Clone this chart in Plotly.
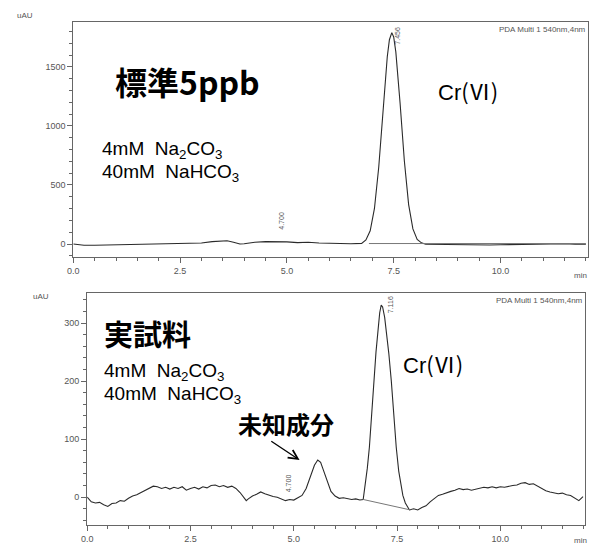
import plotly.graph_objects as go

# ---------------- data ----------------
# Top chromatogram: standard 5 ppb
std_time = [0.0, 0.1, 0.25, 0.5, 0.75, 1.0, 1.25, 1.5, 1.75, 2.0, 2.25, 2.5, 2.75,
            3.0, 3.25, 3.5, 3.6, 3.75, 3.9, 4.0, 4.25, 4.5, 4.75, 5.0, 5.25, 5.5,
            5.75, 6.0, 6.25, 6.5, 6.75, 6.85, 6.95, 7.05, 7.15, 7.25, 7.35, 7.40,
            7.456, 7.50, 7.55, 7.65, 7.75, 7.85, 7.95, 8.05, 8.15, 8.25, 8.5, 8.75,
            9.0, 9.25, 9.5, 9.75, 10.0, 10.25, 10.5, 10.75, 11.0, 11.25, 11.5,
            11.75, 12.0]
std_signal = [0, -5, -10, -10, -8, -5, -3, 0, 2, 5, 5, 3, 5,
              8, 20, 30, 28, 15, 0, 2, 15, 20, 22, 18, 12, 15,
              8, 5, 3, 2, 5, 34, 112, 301, 650, 1131, 1586, 1730,
              1790, 1753, 1627, 1192, 703, 334, 128, 39, 10, -2, -4, -5,
              -6, -8, -9, -8, -6, -4, -6, -3, 0, 6, 2,
              -1, -2]
std_base_time = [6.92, 12.0]
std_base_signal = [4, 4]

# Bottom chromatogram: real sample
smp_time = [0.0, 0.1, 0.2, 0.3, 0.4, 0.5, 0.6, 0.7, 0.8, 0.9, 1.0, 1.1, 1.2, 1.3,
            1.4, 1.5, 1.6, 1.7, 1.8, 1.9, 2.0, 2.1, 2.2, 2.3, 2.4, 2.5, 2.6, 2.7,
            2.8, 2.9, 3.0, 3.1, 3.2, 3.3, 3.4, 3.5, 3.6, 3.7, 3.8, 3.85, 3.9, 4.0,
            4.1, 4.2, 4.3, 4.4, 4.5, 4.6, 4.7, 4.8, 4.9, 5.0, 5.1, 5.2, 5.3, 5.4,
            5.5, 5.58, 5.65, 5.7, 5.8, 5.9, 6.0, 6.1, 6.2, 6.3, 6.4, 6.5, 6.6,
            6.68, 6.72, 6.78, 6.83, 6.88, 6.94, 6.99, 7.04, 7.08, 7.116, 7.15,
            7.2, 7.24, 7.3, 7.36, 7.42, 7.48, 7.54, 7.6, 7.64, 7.7, 7.76, 7.8,
            7.9, 8.0, 8.1, 8.2, 8.3, 8.4, 8.5, 8.6, 8.7, 8.8, 8.9, 9.0, 9.1, 9.2,
            9.3, 9.4, 9.5, 9.6, 9.7, 9.8, 9.9, 10.0, 10.1, 10.2, 10.3, 10.4,
            10.5, 10.6, 10.7, 10.8, 10.9, 11.0, 11.1, 11.2, 11.3, 11.4, 11.5,
            11.6, 11.7, 11.8, 11.9, 12.0]
smp_signal = [0, -8, -10, -9, -13, -16, -11, -10, -6, -7, -2, 2, 4, 8,
              11, 15, 19, 18, 15, 17, 14, 17, 15, 18, 12, 15, 17, 14,
              18, 16, 20, 21, 18, 20, 17, 19, 15, 8, -2, -6, -3, 2,
              5, 9, 6, 3, 1, 0, -3, -6, -4, -5, -1, 3, 15, 35,
              55, 64, 60, 50, 28, 10, 2, -2, -1, -3, -4, -3, -5,
              -4, 15, 50, 86, 140, 201, 250, 288, 318, 331, 328,
              310, 288, 248, 201, 143, 86, 45, 15, 3, -10, -18, -22,
              -20, -22, -18, -15, -8, -2, 3, 5, 8, 10, 12, 15, 13, 14,
              12, 14, 15, 17, 16, 18, 16, 18, 17, 19, 20, 21,
              24, 25, 22, 23, 19, 14, 11, 9, 8, 6, 7,
              4, 3, -2, -6, 1]
smp_base_time = [6.68, 7.82]
smp_base_signal = [-4, -22]

# axis ranges / ticks
x_range = [0, 12.05]
x_ticks = [0.0, 2.5, 5.0, 7.5, 10.0]
x_ticklabels = ["0.0", "2.5", "5.0", "7.5", "10.0"]
std_yrange = [-110, 1880]
std_yticks = [0, 500, 1000, 1500]
smp_yrange = [-48, 352]
smp_yticks = [0, 100, 200, 300]

W, H = 592, 545
AX = "#666666"
TXT = "#555555"
LINE = "#2a2a2a"

fig = go.Figure()

fig.add_trace(go.Scatter(x=std_time, y=std_signal, mode="lines",
                         line=dict(color=LINE, width=1.1), xaxis="x", yaxis="y",
                         showlegend=False))
fig.add_trace(go.Scatter(x=std_base_time, y=std_base_signal, mode="lines",
                         line=dict(color="#777777", width=1), xaxis="x", yaxis="y",
                         showlegend=False))
fig.add_trace(go.Scatter(x=smp_time, y=smp_signal, mode="lines",
                         line=dict(color=LINE, width=1.1), xaxis="x2", yaxis="y2",
                         showlegend=False))
fig.add_trace(go.Scatter(x=smp_base_time, y=smp_base_signal, mode="lines",
                         line=dict(color="#777777", width=1), xaxis="x2", yaxis="y2",
                         showlegend=False))

tickfont = dict(family="Liberation Sans, Arial, sans-serif", size=9, color=TXT)

def xaxis(dom, anchor):
    return dict(domain=dom, anchor=anchor, range=x_range, tickvals=x_ticks,
                ticktext=x_ticklabels, ticks="outside", ticklen=5, tickcolor=AX,
                showline=True, linecolor=AX, linewidth=1, mirror=True,
                showgrid=False, zeroline=False, tickfont=tickfont,
                minor=dict(dtick=0.5, tick0=0, ticks="outside", ticklen=3,
                           tickcolor=AX, showgrid=False))

def yaxis(dom, anchor, rng, ticks, minor_dt):
    return dict(domain=dom, anchor=anchor, range=rng, tickvals=ticks,
                ticks="outside", ticklen=5, tickcolor=AX,
                showline=True, linecolor=AX, linewidth=1, mirror=True,
                showgrid=False, zeroline=False, tickfont=tickfont,
                minor=dict(dtick=minor_dt, tick0=0, ticks="outside", ticklen=3,
                           tickcolor=AX, showgrid=False))

fig.update_layout(
    width=W, height=H, margin=dict(l=0, r=0, t=0, b=0),
    paper_bgcolor="white", plot_bgcolor="white",
    xaxis=xaxis([68 / W, 588 / W], "y"),
    yaxis=yaxis([1 - 257 / H, 1 - 22 / H], "x", std_yrange, std_yticks, 100),
    xaxis2=xaxis([82 / W, 585 / W], "y2"),
    yaxis2=yaxis([1 - 525 / H, 1 - 293 / H], "x2", smp_yrange, smp_yticks, 20),
)

LAT = "Liberation Sans, Arial, Noto Sans CJK JP"
CJK = "Noto Sans CJK JP, sans-serif"
CR6 = "Cr<span style='font-family:Noto Sans CJK JP'>(Ⅵ)</span>"
ann = []

def text(x, y, s, xref, yref, size, family=LAT, color="black", xanchor="left",
         yanchor="middle", angle=0):
    ann.append(dict(x=x, y=y, xref=xref, yref=yref, text=s, showarrow=False,
                    xanchor=xanchor, yanchor=yanchor, textangle=angle,
                    font=dict(size=size, family=family, color=color)))

# top panel
text(0.93, 1380, "<b>標準5ppb</b>", "x", "y", 32, CJK)
text(0.63, 800, "4mM  Na<sub>2</sub>CO<sub>3</sub>", "x", "y", 19)
text(0.63, 605, "40mM  NaHCO<sub>3</sub>", "x", "y", 19)
text(8.5, 1305, CR6, "x", "y", 22)
text(7.58, 1765, "7.456", "x", "y", 7, color=TXT, xanchor="center", angle=-90)
text(4.88, 195, "4.700", "x", "y", 7, color=TXT, xanchor="center", angle=-90)
text(1.0, 0.995, "PDA Multi 1 540nm,4nm", "x domain", "y domain", 8, color=TXT,
     xanchor="right", yanchor="top")
text(19 / W, 1 - 15 / H, "uAU", "paper", "paper", 8, color=TXT, xanchor="center")
text(580 / W, 1 - 275 / H, "min", "paper", "paper", 8, color=TXT, xanchor="center")

# bottom panel
text(0.36, 283, "<b>実試料</b>", "x2", "y2", 29, CJK)
text(0.36, 216, "4mM  Na<sub>2</sub>CO<sub>3</sub>", "x2", "y2", 19)
text(0.36, 176, "40mM  NaHCO<sub>3</sub>", "x2", "y2", 19)
text(3.6, 127, "<b>未知成分</b>", "x2", "y2", 24, CJK)
text(7.6, 231, CR6, "x2", "y2", 22)
text(7.33, 331, "7.116", "x2", "y2", 7, color=TXT, xanchor="center", angle=-90)
text(4.86, 24, "4.700", "x2", "y2", 7, color=TXT, xanchor="center", angle=-90)
text(1.0, 0.995, "PDA Multi 1 540nm,4nm", "x2 domain", "y2 domain", 8, color=TXT,
     xanchor="right", yanchor="top")
text(35 / W, 1 - 296 / H, "uAU", "paper", "paper", 8, color=TXT, xanchor="center")
text(580 / W, 1 - 540 / H, "min", "paper", "paper", 8, color=TXT, xanchor="center")

# arrow to the unknown component
ann.append(dict(x=5.14, y=64, ax=4.42, ay=98, xref="x2", yref="y2",
                axref="x2", ayref="y2", showarrow=True, text="",
                arrowhead=5, arrowsize=1.4, arrowwidth=1.3, arrowcolor="black"))

fig.update_layout(annotations=ann)
fig.write_html("out.html")
